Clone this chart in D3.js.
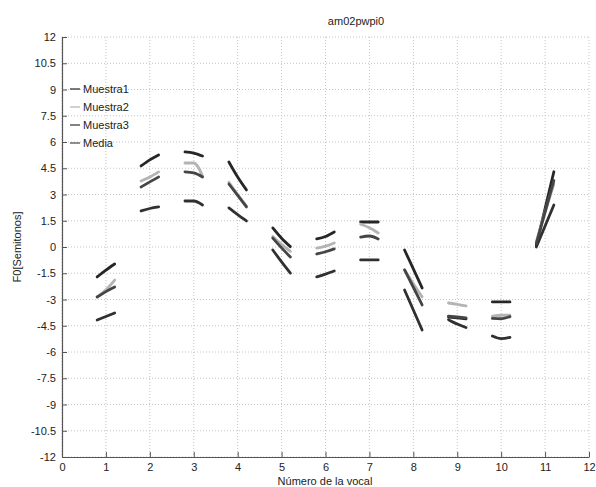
<!DOCTYPE html>
<html>
<head>
<meta charset="utf-8">
<script src="https://cdn.jsdelivr.net/npm/d3@7"></script>
<style>
  html, body { margin: 0; padding: 0; background: #fff; }
  svg { display: block; font-family: "Liberation Sans", Arial, Helvetica, sans-serif; }
</style>
</head>
<body>
<svg id="chart" width="596" height="487"></svg>
<script>
// Vowel indices along the x axis
const vocales = [1, 2, 3, 4, 5, 6, 7, 8, 9, 10, 11];
// Position of each contour sample relative to the vowel index (start, middle, end)
const desplazamientos = [-0.2, 0, 0.2];

// F0 contours in semitones: one [start, middle, end] triple per vowel
const muestra1 = [
  [-1.71, -1.32, -0.97], [4.63, 4.98, 5.26], [5.43, 5.37, 5.20], [4.86, 4.00, 3.26],
  [1.09, 0.50, 0.02], [0.46, 0.60, 0.86], [1.43, 1.43, 1.43], [-0.17, -1.25, -2.34],
  [-4.00, -4.05, -4.10], [-3.14, -3.14, -3.14], [0.10, 2.20, 4.30]
];
const muestra2 = [
  [-2.85, -2.45, -1.89], [3.77, 4.00, 4.29], [4.80, 4.80, 4.06], [3.70, 3.00, 2.35],
  [0.60, 0.15, -0.25], [-0.06, 0.05, 0.23], [1.30, 1.10, 0.80], [-1.30, -2.10, -2.85],
  [-3.20, -3.28, -3.37], [-3.95, -3.90, -3.90], [0.30, 2.00, 3.60]
];
const muestra3 = [
  [-4.17, -3.97, -3.77], [2.06, 2.20, 2.29], [2.63, 2.63, 2.40], [2.23, 1.85, 1.49],
  [-0.17, -0.85, -1.49], [-1.71, -1.55, -1.37], [-0.74, -0.74, -0.74], [-2.46, -3.60, -4.74],
  [-4.15, -4.40, -4.60], [-5.09, -5.24, -5.16], [0.00, 1.20, 2.40]
];
const media = [
  [-2.86, -2.55, -2.29], [3.43, 3.72, 4.00], [4.29, 4.23, 4.00], [3.60, 2.95, 2.29],
  [0.51, -0.05, -0.57], [-0.40, -0.27, -0.11], [0.57, 0.63, 0.46], [-1.31, -2.30, -3.31],
  [-3.95, -4.00, -4.05], [-4.08, -4.10, -3.98], [0.20, 2.00, 3.80]
];

const nombresSeries = ["Muestra1", "Muestra2", "Muestra3", "Media"];
const valoresSeries = [muestra1, muestra2, muestra3, media];
const coloresSeries = ["#262626", "#b4b4b4", "#303030", "#454545"];

// Axis ticks
const ticksX = [0, 1, 2, 3, 4, 5, 6, 7, 8, 9, 10, 11, 12];
const ticksY = [-12, -10.5, -9, -7.5, -6, -4.5, -3, -1.5, 0, 1.5, 3, 4.5, 6, 7.5, 9, 10.5, 12];

const titulo = "am02pwpi0";
const etiquetaX = "Número de la vocal";
const etiquetaY = "F0[Semitonos]";

const svg = d3.select("#chart");
const area = { left: 62, right: 589, top: 37, bottom: 457 };

const x = d3.scaleLinear().domain([0, 12]).range([area.left, area.right]);
const y = d3.scaleLinear().domain([-12, 12]).range([area.bottom, area.top]);

// Dotted grid
const grid = svg.append("g").attr("class", "grid");
grid.selectAll("line.v").data(ticksX).join("line")
  .attr("class", "v")
  .attr("x1", d => x(d)).attr("x2", d => x(d))
  .attr("y1", area.top).attr("y2", area.bottom)
  .attr("stroke", "#c4c4c4").attr("stroke-width", 1)
  .attr("stroke-dasharray", "1,2");
grid.selectAll("line.h").data(ticksY).join("line")
  .attr("class", "h")
  .attr("x1", area.left).attr("x2", area.right)
  .attr("y1", d => y(d)).attr("y2", d => y(d))
  .attr("stroke", "#c4c4c4").attr("stroke-width", 1)
  .attr("stroke-dasharray", "1,2");

// Axes with inward ticks
const ejeX = svg.append("g")
  .attr("transform", `translate(0,${area.bottom})`)
  .call(d3.axisBottom(x).tickValues(ticksX).tickFormat(d3.format("d"))
    .tickSizeInner(-5).tickSizeOuter(0).tickPadding(6));
const ejeY = svg.append("g")
  .attr("transform", `translate(${area.left},0)`)
  .call(d3.axisLeft(y).tickValues(ticksY).tickFormat(d => String(d))
    .tickSizeInner(-5).tickSizeOuter(0).tickPadding(6));

[ejeX, ejeY].forEach(g => {
  g.select(".domain").attr("stroke", "#555").attr("stroke-width", 1.2);
  g.selectAll(".tick line").attr("stroke", "#555");
  g.selectAll(".tick text").attr("fill", "#222").attr("font-size", 11)
    .attr("font-family", "\"Liberation Sans\", Arial, sans-serif");
});

// F0 contour segments, one per vowel and series
const linea = d3.line()
  .x(d => x(d[0]))
  .y(d => y(d[1]))
  .curve(d3.curveMonotoneX);

const capaDatos = svg.append("g").attr("class", "series");
valoresSeries.forEach((serie, s) => {
  const segmentos = serie.map((tripleta, i) =>
    tripleta.map((v, k) => [vocales[i] + desplazamientos[k], v]));
  capaDatos.append("g")
    .selectAll("path").data(segmentos).join("path")
    .attr("d", linea)
    .attr("fill", "none")
    .attr("stroke", coloresSeries[s])
    .attr("stroke-width", 2.8)
    .attr("stroke-linecap", "round")
    .attr("stroke-linejoin", "round");
});

// Legend
const leyenda = svg.append("g").attr("class", "legend");
const filas = leyenda.selectAll("g").data(nombresSeries).join("g")
  .attr("transform", (d, i) => `translate(70,${89 + i * 18})`);
filas.append("line")
  .attr("x1", 0).attr("x2", 10).attr("y1", 0).attr("y2", 0)
  .attr("stroke", (d, i) => coloresSeries[i]).attr("stroke-width", 1.2);
filas.append("text")
  .attr("x", 13).attr("y", 0).attr("dy", "0.35em")
  .attr("font-size", 11).attr("fill", "#222")
  .text(d => d);

// Title and axis labels
svg.append("text")
  .attr("x", 356).attr("y", 25)
  .attr("text-anchor", "middle")
  .attr("font-size", 11).attr("fill", "#222")
  .text(titulo);
svg.append("text")
  .attr("x", 325).attr("y", 485)
  .attr("text-anchor", "middle")
  .attr("font-size", 11).attr("fill", "#222")
  .text(etiquetaX);
svg.append("text")
  .attr("transform", `translate(21,${(area.top + area.bottom) / 2}) rotate(-90)`)
  .attr("text-anchor", "middle")
  .attr("font-size", 11).attr("fill", "#222")
  .text(etiquetaY);
</script>
</body>
</html>
